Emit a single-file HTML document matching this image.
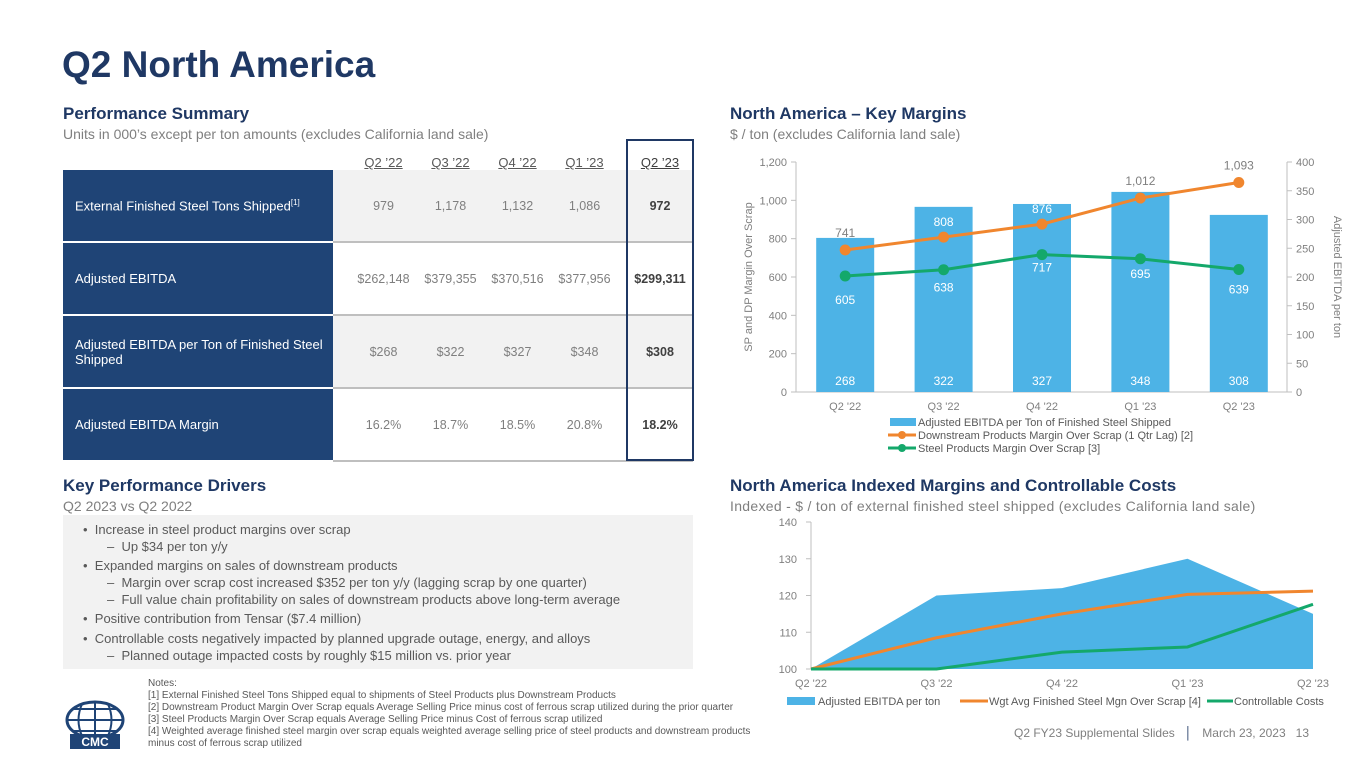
<!DOCTYPE html>
<html><head><meta charset="utf-8"><style>
body{margin:0;width:1365px;height:768px;background:#fff;font-family:"Liberation Sans",sans-serif;position:relative;overflow:hidden;color:#595959}
.abs{position:absolute}
h1{position:absolute;left:62px;top:44px;margin:0;font-size:37px;color:#1f3864;font-weight:bold}
.h2{position:absolute;font-size:17px;font-weight:bold;color:#1f3864}
.sub{position:absolute;font-size:14px;color:#7f7f7f}
table{border-collapse:collapse;position:absolute;left:63px;top:146px;font-size:13px;table-layout:fixed;width:630px}
td,th{padding:0;text-align:center}
th{font-weight:normal;height:24px;color:#595959;text-decoration:underline;vertical-align:bottom}
td.lab{background:#1f4476;color:#fff;text-align:left;padding-left:12px;border-bottom:2px solid #fff}
td.v{color:#7f7f7f;border-bottom:2px solid #bfbfbf;white-space:nowrap;font-size:12.5px}
tr.g td.v{background:#f2f2f2}
tr.r td{height:71px}
td.b{font-weight:bold;color:#404040}
.c1{padding-left:17px !important}
.c4{padding-right:9px !important}
.drv{position:absolute;left:63px;top:515px;width:630px;height:154px;background:#f2f2f2;font-size:13px;color:#595959}
.drv div{position:absolute;left:20px;white-space:nowrap}
.notes{position:absolute;left:148px;top:678px;font-size:10px;line-height:12px;color:#595959}
</style></head><body>
<h1>Q2 North America</h1>
<div class="h2" style="left:63px;top:104px">Performance Summary</div>
<div class="sub" style="left:63px;top:126px">Units in 000’s except per ton amounts (excludes California land sale)</div>
<table>
<colgroup><col style="width:270px"><col style="width:84px"><col style="width:67px"><col style="width:67px"><col style="width:76px"><col style="width:66px"></colgroup>
<tr><th></th><th class="c1">Q2 ’22</th><th>Q3 ’22</th><th>Q4 ’22</th><th class="c4">Q1 ’23</th><th style="color:#404040">Q2 ’23</th></tr>
<tr class="r g"><td class="lab">External Finished Steel Tons Shipped<sup style="font-size:8px">[1]</sup></td><td class="v c1">979</td><td class="v">1,178</td><td class="v">1,132</td><td class="v c4">1,086</td><td class="v b">972</td></tr>
<tr class="r"><td class="lab">Adjusted EBITDA</td><td class="v c1">$262,148</td><td class="v">$379,355</td><td class="v">$370,516</td><td class="v c4">$377,956</td><td class="v b">$299,311</td></tr>
<tr class="r g"><td class="lab">Adjusted EBITDA per Ton of Finished Steel<br>Shipped</td><td class="v c1">$268</td><td class="v">$322</td><td class="v">$327</td><td class="v c4">$348</td><td class="v b">$308</td></tr>
<tr class="r"><td class="lab">Adjusted EBITDA Margin</td><td class="v c1">16.2%</td><td class="v">18.7%</td><td class="v">18.5%</td><td class="v c4">20.8%</td><td class="v b">18.2%</td></tr>
</table>
<div class="abs" style="left:626px;top:139px;width:64px;height:318px;border:2px solid #1f3864"></div>

<div class="h2" style="left:63px;top:476px">Key Performance Drivers</div>
<div class="sub" style="left:63px;top:498px">Q2 2023 vs Q2 2022</div>
<div class="drv">
<div style="top:7px">•&nbsp; Increase in steel product margins over scrap</div>
<div style="top:24px;left:44px">–&nbsp; Up $34 per ton y/y</div>
<div style="top:43px">•&nbsp; Expanded margins on sales of downstream products</div>
<div style="top:60px;left:44px">–&nbsp; Margin over scrap cost increased $352 per ton y/y (lagging scrap by one quarter)</div>
<div style="top:77px;left:44px">–&nbsp; Full value chain profitability on sales of downstream products above long-term average</div>
<div style="top:96px">•&nbsp; Positive contribution from Tensar ($7.4 million)</div>
<div style="top:116px">•&nbsp; Controllable costs negatively impacted by planned upgrade outage, energy, and alloys</div>
<div style="top:133px;left:44px">–&nbsp; Planned outage impacted costs by roughly $15 million vs. prior year</div>
</div>

<div class="h2" style="left:730px;top:104px">North America – Key Margins</div>
<div class="sub" style="left:730px;top:126px">$ / ton (excludes California land sale)</div>
<div class="h2" style="left:730px;top:476px">North America Indexed Margins and Controllable Costs</div>
<div class="sub" style="left:730px;top:498px;letter-spacing:0.3px">Indexed - $ / ton of external finished steel shipped (excludes California land sale)</div>

<svg id="c1" class="abs" style="left:0;top:0" width="1365" height="768"></svg>

<div class="notes">Notes:<br>[1] External Finished Steel Tons Shipped equal to shipments of Steel Products plus Downstream Products<br>[2] Downstream Product Margin Over Scrap equals Average Selling Price minus cost of ferrous scrap utilized during the prior quarter<br>[3] Steel Products Margin Over Scrap equals Average Selling Price minus Cost of ferrous scrap utilized<br>[4] Weighted average finished steel margin over scrap equals weighted average selling price of steel products and downstream products<br>minus cost of ferrous scrap utilized</div>
<svg class="abs" style="left:62px;top:700px" width="66" height="52">
<ellipse cx="33" cy="20" rx="28" ry="18" fill="none" stroke="#1f4476" stroke-width="3"/>
<path d="M5 20H61M33 2V38M12 9H54M12 31H54M20 4Q13 20 20 36M46 4Q53 20 46 36" stroke="#1f4476" stroke-width="2" fill="none"/>
<rect x="8" y="34" width="50" height="15" fill="#1f4476"/>
<text x="33" y="46" fill="#fff" font-size="12" font-weight="bold" text-anchor="middle">CMC</text></svg>
<div class="abs" style="left:1014px;top:726px;font-size:12px;color:#7f7f7f">Q2 FY23 Supplemental Slides &nbsp;&nbsp;<span style="color:#1f3864">│</span>&nbsp;&nbsp; March 23, 2023 &nbsp;&nbsp;13</div>

<script>
const cats=["Q2 '22","Q3 '22","Q4 '22","Q1 '23","Q2 '23"];
const ebitdaPerTon=[268,322,327,348,308];
const dpMargin=[741,808,876,1012,1093];
const spMargin=[605,638,717,695,639];
const leftTicks=[0,200,400,600,800,1000,1200];
const rightTicks=[0,50,100,150,200,250,300,350,400];
const idxEbitda=[100,120,122,130,115];
const idxWgt=[100,108.5,115,120.3,121.2];
const idxCtrl=[100,100,104.6,106,117.6];
const idxTicks=[100,110,120,130,140];
// style only: whether DP label sits inside the bar (white)
const dpLabelInside=[false,true,true,false,false];

const svg=document.getElementById('c1');
const NS='http://www.w3.org/2000/svg';
function mk(t,a,txt){const e=document.createElementNS(NS,t);for(const k in a)e.setAttribute(k,a[k]);if(txt!=null)e.textContent=txt;svg.appendChild(e);return e;}
const x0=796,bw=98.4,yb=392,yt=162;
const xC=i=>x0+bw*(i+0.5);
const yL=v=>yb-(v/1200)*(yb-yt);
const yR=v=>yb-(v/400)*(yb-yt);
let e;
e=mk('line',{x1:796,x2:796,y1:yt,y2:yb,stroke:'#bfbfbf'});
e=mk('line',{x1:1287,x2:1287,y1:yt,y2:yb,stroke:'#bfbfbf'});
e=mk('line',{x1:796,x2:1287,y1:yb,y2:yb,stroke:'#bfbfbf'});
leftTicks.forEach(v=>{e=mk('text',{x:787,y:yL(v)+4,'font-size':11,fill:'#7f7f7f','text-anchor':'end'},v.toLocaleString('en-US'));mk('line',{x1:791,x2:796,y1:yL(v),y2:yL(v),stroke:'#bfbfbf'});});
rightTicks.forEach(v=>{e=mk('text',{x:1296,y:yR(v)+4,'font-size':11,fill:'#7f7f7f'},v);mk('line',{x1:1287,x2:1292,y1:yR(v),y2:yR(v),stroke:'#bfbfbf'});});
e=mk('text',{x:0,y:0,'font-size':11,fill:'#7f7f7f','text-anchor':'middle',transform:'translate(752,277) rotate(-90)'},'SP and DP Margin Over Scrap');
e=mk('text',{x:0,y:0,'font-size':11,fill:'#7f7f7f','text-anchor':'middle',transform:'translate(1334,277) rotate(90)'},'Adjusted EBITDA per ton');
ebitdaPerTon.forEach((v,i)=>{
 e=mk('rect',{x:xC(i)-29,y:yR(v),width:58,height:yb-yR(v),fill:'#4db3e6'});
 e=mk('text',{x:xC(i),y:yb-7,'font-size':12,fill:'#fff','text-anchor':'middle'},v);
 e=mk('text',{x:xC(i),y:410,'font-size':11,fill:'#7f7f7f','text-anchor':'middle'},cats[i]);
});
function line(arr,col,name,yf){const p=arr.map((v,i)=>xC(i)+','+yf(v)).join(' ');e=mk('polyline',{points:p,fill:'none',stroke:col,'stroke-width':3});
 arr.forEach((v,i)=>{e=mk('circle',{cx:xC(i),cy:yf(v),r:5.5,fill:col});});}
line(dpMargin,'#f0862e','dp-margin-line',yL);
line(spMargin,'#14a86b','sp-margin-line',yL);
dpMargin.forEach((v,i)=>{e=mk('text',{x:xC(i),y:yL(v)-(dpLabelInside[i]?11:13),'font-size':12,fill:dpLabelInside[i]?'#fff':'#7f7f7f','text-anchor':'middle'},v.toLocaleString('en-US'));});
spMargin.forEach((v,i)=>{e=mk('text',{x:xC(i),y:yL(v)+(i==2?17:i==3?19:i==0?28:i==4?24:22),'font-size':12,fill:'#fff','text-anchor':'middle'},v);});
e=mk('rect',{x:890,y:418,width:26,height:8,fill:'#4db3e6'});
mk('text',{x:918,y:426,'font-size':11,fill:'#595959'},'Adjusted EBITDA per Ton of Finished Steel Shipped');
mk('line',{x1:888,x2:916,y1:435,y2:435,stroke:'#f0862e','stroke-width':3});mk('circle',{cx:902,cy:435,r:4,fill:'#f0862e'});
mk('text',{x:918,y:439,'font-size':11,fill:'#595959'},'Downstream Products Margin Over Scrap (1 Qtr Lag) [2]');
mk('line',{x1:888,x2:916,y1:448,y2:448,stroke:'#14a86b','stroke-width':3});mk('circle',{cx:902,cy:448,r:4,fill:'#14a86b'});
mk('text',{x:918,y:452,'font-size':11,fill:'#595959'},'Steel Products Margin Over Scrap [3]');
const ax0=811,ax1=1313,by0=669,by1=522;
const xI=i=>ax0+(ax1-ax0)*i/(cats.length-1);
const yI=v=>by0-(v-100)/40*(by0-by1);
e=mk('line',{x1:811,x2:811,y1:by1,y2:by0,stroke:'#bfbfbf'});
idxTicks.forEach(v=>{e=mk('text',{x:797,y:yI(v)+4,'font-size':11,fill:'#7f7f7f','text-anchor':'end'},v);mk('line',{x1:806,x2:811,y1:yI(v),y2:yI(v),stroke:'#bfbfbf'});});
const ap=idxEbitda.map((v,i)=>xI(i)+','+yI(v)).join(' ')+' '+xI(4)+','+by0+' '+xI(0)+','+by0;
e=mk('polygon',{points:ap,fill:'#4db3e6'});
e=mk('polyline',{points:idxWgt.map((v,i)=>xI(i)+','+yI(v)).join(' '),fill:'none',stroke:'#f0862e','stroke-width':3});
e=mk('polyline',{points:idxCtrl.map((v,i)=>xI(i)+','+yI(v)).join(' '),fill:'none',stroke:'#14a86b','stroke-width':3});
cats.forEach((c,i)=>{e=mk('text',{x:xI(i),y:687,'font-size':11,fill:'#7f7f7f','text-anchor':'middle'},c);});
e=mk('rect',{x:787,y:697,width:28,height:8,fill:'#4db3e6'});
mk('text',{x:818,y:705,'font-size':11,fill:'#595959'},'Adjusted EBITDA per ton');
mk('line',{x1:960,x2:988,y1:701,y2:701,stroke:'#f0862e','stroke-width':3});
mk('text',{x:989,y:705,'font-size':11,fill:'#595959'},'Wgt Avg Finished Steel Mgn Over Scrap [4]');
mk('line',{x1:1207,x2:1233,y1:701,y2:701,stroke:'#14a86b','stroke-width':3});
mk('text',{x:1234,y:705,'font-size':11,fill:'#595959'},'Controllable Costs');
</script>
</body></html>
